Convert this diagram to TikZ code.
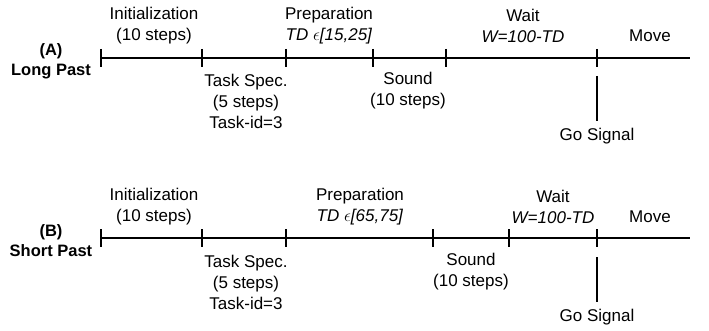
\documentclass[tikz,border=0pt]{standalone}
\usepackage{fontspec}
\setmainfont{Liberation Sans}
\usetikzlibrary{positioning}

\begin{document}
\begin{tikzpicture}[x=1pt, y=-1pt, line width=1.2pt,
  lbl/.style={font=\fontsize{17}{21}\selectfont, inner sep=0pt, align=center},
  panel/.style={lbl, font=\fontsize{16.5}{20}\selectfont\bfseries}]
  \useasboundingbox (0,0) rectangle (709,331);

  % ---------- (A) Long Past ----------
  \node[panel] (nameA) at (51,61) {(A)\\Long Past};
  \coordinate (startA) at (101,58);
  \coordinate (endA) at (690,58);
  \draw (startA) -- (endA);
  \foreach \n/\x in {a1/101, a2/202, a3/286, a4/373, a5/446, a6/597} {
    \coordinate (\n) at (\x,58);
    \draw (\n) ++(0,-9) -- ++(0,18);
  }

  % Phases above / below the line
  \node[lbl] (initA) at (154,25.5) {Initialization\\(10 steps)};
  \node[lbl] (prepA) at (329,25.5) {Preparation\\\textit{TD} $\epsilon$\textit{[15,25]}};
  \node[lbl] (waitA) at (523,25.5) {Wait\\\textit{W=100-TD}};
  \node[lbl] (moveA) at (650,36) {Move};
  \node[lbl] (specA) at (246,101) {Task Spec.\\(5 steps)\\Task-id=3};
  \node[lbl] (soundA) at (408,90.5) {Sound\\(10 steps)};

  % Go signal
  \coordinate (goA) at (597,76);
  \node[lbl, inner sep=6pt] (gosigA) at (597,136) {Go Signal};
  \draw (goA) -- (gosigA);

  % ---------- (B) Short Past ----------
  \node[panel] (nameB) at (51,240.5) {(B)\\Short Past};
  \coordinate (startB) at (101,238);
  \coordinate (endB) at (690,238);
  \draw (startB) -- (endB);
  \foreach \n/\x in {b1/101, b2/202, b3/286, b4/433, b5/509, b6/597} {
    \coordinate (\n) at (\x,238);
    \draw (\n) ++(0,-9) -- ++(0,18);
  }

  % Phases above / below the line
  \node[lbl] (initB) at (154,206.5) {Initialization\\(10 steps)};
  \node[lbl] (prepB) at (360,206.5) {Preparation\\\textit{TD} $\epsilon$\textit{[65,75]}};
  \node[lbl] (waitB) at (553,206.5) {Wait\\\textit{W=100-TD}};
  \node[lbl] (moveB) at (650,217) {Move};
  \node[lbl] (specB) at (246,282) {Task Spec.\\(5 steps)\\Task-id=3};
  \node[lbl] (soundB) at (471,271.5) {Sound\\(10 steps)};

  % Go signal
  \coordinate (goB) at (597,257);
  \node[lbl, inner sep=6pt] (gosigB) at (597,317) {Go Signal};
  \draw (goB) -- (gosigB);
\end{tikzpicture}
\end{document}
